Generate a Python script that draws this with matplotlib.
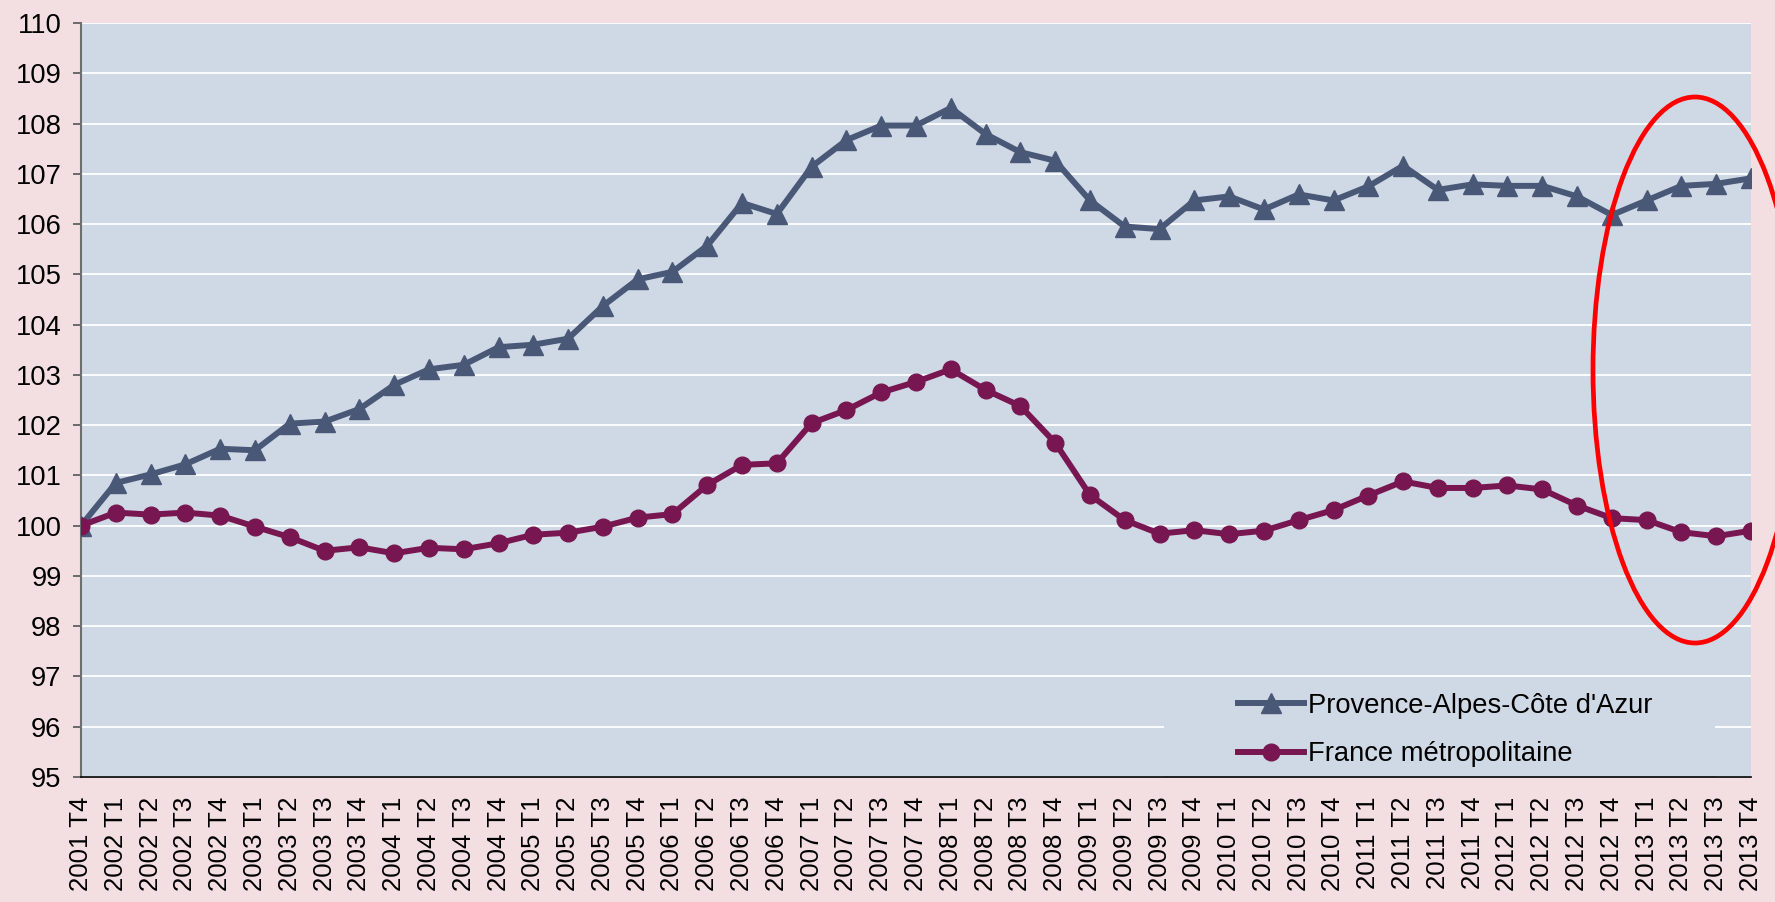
import matplotlib
matplotlib.use('Agg')
import matplotlib.pyplot as plt
from matplotlib.patches import Ellipse, Rectangle
from matplotlib.lines import Line2D
import numpy as np

plt.rcParams['font.family'] = ['Liberation Sans', 'DejaVu Sans']

# quarters 2001 T4 .. 2013 T4
quarters = ['2001 T4'] + [f'{y} T{q}' for y in range(2002, 2014) for q in range(1, 5)]

paca = [100.0, 100.85, 101.02, 101.22, 101.53, 101.5, 102.03, 102.07, 102.32, 102.8,
        103.11, 103.2, 103.55, 103.6, 103.72, 104.37, 104.9, 105.05, 105.57, 106.42,
        106.2, 107.14, 107.67, 107.96, 107.96, 108.31, 107.79, 107.43, 107.26, 106.47,
        105.95, 105.9, 106.47, 106.55, 106.29, 106.59, 106.47, 106.75, 107.16, 106.68,
        106.79, 106.76, 106.76, 106.55, 106.18, 106.47, 106.76, 106.8, 106.91]

france = [100.0, 100.26, 100.22, 100.26, 100.2, 99.98, 99.77, 99.5, 99.57, 99.45,
          99.56, 99.53, 99.65, 99.82, 99.86, 99.98, 100.16, 100.23, 100.81, 101.21,
          101.24, 102.04, 102.3, 102.65, 102.86, 103.11, 102.7, 102.38, 101.65, 100.61,
          100.11, 99.84, 99.91, 99.83, 99.9, 100.11, 100.31, 100.6, 100.88, 100.75,
          100.75, 100.8, 100.72, 100.4, 100.15, 100.11, 99.87, 99.79, 99.9]

series_names = ["Provence-Alpes-Côte d'Azur", 'France métropolitaine']

c_paca = '#4a5878'
c_fr = '#771650'
bg_fig = '#f3dfe1'
bg_ax = '#cfd8e5'

fig = plt.figure(figsize=(17.75, 9.02), dpi=100, facecolor=bg_fig)
ax = fig.add_axes([81 / 1775, 1 - 777 / 902, 1670 / 1775, 754 / 902])
ax.set_facecolor(bg_ax)

x = np.arange(len(quarters))
ax.plot(x, paca, color=c_paca, lw=4.3, marker='^', ms=14, zorder=3)
ax.plot(x, france, color=c_fr, lw=4.3, marker='o', ms=12, zorder=3)

ax.set_xlim(0, len(quarters) - 1)
ax.set_ylim(95, 110)
ax.set_yticks(range(95, 111))

ax.set_xticks(x)
ax.set_xticklabels(quarters, rotation=90, va='top', ha='center')
ax.set_xticks(x[::2], minor=True)
ax.tick_params(axis='x', which='major', length=0, pad=14, labelsize=18.6)
ax.tick_params(axis='x', which='minor', length=6, width=1, color='black')
ax.tick_params(axis='y', length=6, width=1.2, color='#555555', pad=8, labelsize=19.7)

ax.set_axisbelow(True)
ax.grid(axis='y', which='major', color='white', lw=1.3)
ax.grid(axis='x', which='minor', color='white', lw=0.9)

for s in ['top', 'right']:
    ax.spines[s].set_visible(False)
ax.spines['left'].set_color('#6e6e6e')
ax.spines['left'].set_linewidth(1.5)
ax.spines['bottom'].set_color('black')
ax.spines['bottom'].set_linewidth(1.2)

# legend area covers the grid
ax.add_patch(Rectangle((0.6485, 0), 0.33, 0.127, transform=ax.transAxes,
                       facecolor=bg_ax, edgecolor='none', zorder=1.5))
handles = [Line2D([], [], color=c_paca, lw=4.3, marker='^', ms=14),
           Line2D([], [], color=c_fr, lw=4.3, marker='o', ms=12)]
ax.legend(handles, series_names, loc='center left', bbox_to_anchor=(0.6928, 0.062),
          frameon=False, fontsize=19.7, handlelength=2.4, handletextpad=0.15,
          borderpad=0, borderaxespad=0, labelspacing=0.82)

# red highlight ellipse
ell = Ellipse((1695 / 1775, 1 - 370 / 902), 2 * 102 / 1775, 2 * 273 / 902,
              transform=fig.transFigure, fill=False, edgecolor='#ff0000', lw=3.4)
fig.add_artist(ell)

fig.savefig('out.png', dpi=100, facecolor=bg_fig)
